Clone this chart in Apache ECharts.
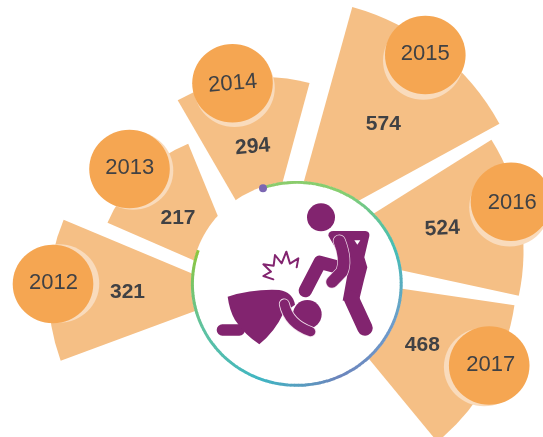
<!DOCTYPE html>
<html>
<head>
<meta charset="utf-8">
<style>html,body{margin:0;padding:0;background:#fff;overflow:hidden}#c{width:543px;height:437px}</style>
<script src="https://cdn.jsdelivr.net/npm/echarts@6/dist/echarts.min.js"></script>
</head>
<body>
<div id="c"></div>
<script>
// ---- data ----
const years = ['2012', '2013', '2014', '2015', '2016', '2017'];
const counts = [321, 217, 294, 574, 524, 468];

// ---- layout, kept apart from the data ----
const apex = [[241, 294], [245.2, 282.8], [264.3, 249.6], [287.8, 239.6], [313.6, 251.3], [298.5, 273.4]];
const arcDeg = [[157.3, 200.3], [112.3, 156.4], [74.8, 120.1], [28.7, 74.5], [-12.2, 32.1], [-50.5, -8.4]];
const radiusFit = [1.073, 1.02, 1.007, 1.007, 0.917, 1.009];
const radiusPerRootCount = 10;
const countPos = [[127.5, 292], [178, 218.5], [252.7, 147], [383.3, 124], [442.3, 228.7], [422.3, 345]];
const countRot = [0, 0, 5, 0, 3, 0];
const bubble = [[53, 284], [129.5, 169], [232.5, 83.2], [425.3, 55], [511, 201.7], [489.2, 365.5]];
const halo = [[6, -0.5], [3.5, 1.5], [2, 4.5], [-2, 5.5], [-1.5, 5.5], [-5, 1.5]];
const yearPos = [[53.5, 282.7], [129.7, 167.7], [232.7, 83.7], [425.3, 54.3], [512.3, 202.7], [490.7, 365.3]];
const yearRot = [0, 0, 5, 0, 0, 0];

const FONT = '"Liberation Sans", Arial, sans-serif';
const TEXT = '#404144', WEDGE = '#F5BF85', BUBBLE = '#F5A652', HALO = '#F9DBBC', PURPLE = '#82246F';
const seriesData = years.map((y, i) => [i, counts[i]]);

function wedgeItem(params, api) {
  const i = api.value(0), count = api.value(1);
  const r = Math.sqrt(count) * radiusPerRootCount * radiusFit[i];
  const rad = Math.PI / 180;
  return {
    type: 'sector',
    shape: { cx: apex[i][0], cy: apex[i][1], r0: 0, r: r,
             startAngle: -arcDeg[i][1] * rad, endAngle: -arcDeg[i][0] * rad, clockwise: true },
    style: { fill: WEDGE }
  };
}
function labelItem(params, api) {
  const i = api.value(0), count = api.value(1);
  return {
    type: 'text', x: countPos[i][0], y: countPos[i][1], rotation: countRot[i] * Math.PI / 180,
    style: { text: String(count), x: 0, y: 0, align: 'center', verticalAlign: 'middle',
             font: 'bold 21px ' + FONT, fill: TEXT }
  };
}
function bubbleItem(params, api) {
  const i = api.value(0);
  const [x, y] = bubble[i];
  return {
    type: 'group',
    children: [
      { type: 'ellipse', shape: { cx: x + halo[i][0], cy: y + halo[i][1], rx: 40.3, ry: 39.3 }, style: { fill: HALO } },
      { type: 'ellipse', shape: { cx: x, cy: y, rx: 40.3, ry: 39.3 }, style: { fill: BUBBLE } },
      { type: 'text', x: yearPos[i][0], y: yearPos[i][1], rotation: yearRot[i] * Math.PI / 180,
        style: { text: years[i], x: 0, y: 0, align: 'center', verticalAlign: 'middle',
                 font: '22px ' + FONT, fill: TEXT } }
    ]
  };
}

// ---- central disc, gradient ring and pictogram ----
const ringStops = ['#8CCB6B', '#86CE6F', '#45BDB5', '#6E9CCB', '#6B84BC', '#3FB5C2', '#5EC2A0', '#8CC63F'];
const ringFrom = 109, ringSweep = 308, ringSteps = 154;
const cx = 296.8, cy = 283.85, ringR = 104.4, squash = 0.972;
const ring = [];
for (let k = 0; k < ringSteps; k++) {
  const a0 = (ringFrom - ringSweep * k / ringSteps) * Math.PI / 180;
  const a1 = (ringFrom - ringSweep * (k + 1.15) / ringSteps) * Math.PI / 180;
  ring.push({ type: 'arc',
    shape: { cx, cy, r: ringR, startAngle: -a0, endAngle: -a1, clockwise: true },
    style: { fill: null, stroke: echarts.color.lerp(k / (ringSteps - 1), ringStops), lineWidth: 3 } });
}
const fill = (d, c) => ({ type: 'path', shape: { pathData: d }, style: { fill: c || PURPLE } });
const line = (d, w, c) => ({ type: 'path', shape: { pathData: d },
  style: { fill: null, stroke: c, lineWidth: w, lineCap: 'round', lineJoin: 'round' } });
const disc = (x, y, r) => ({ type: 'circle', shape: { cx: x, cy: y, r }, style: { fill: PURPLE } });
const figure = [
  // standing person
  disc(423, 142, 42),
  fill('M445 197 Q445 183 460 183 L556 183 Q570 184 568 198 L553 262 L562 292 L552 330 L538 388 L488 392 L503 310 L470 240 Z'),
  line('M514 385 L555 474', 46, PURPLE),
  line('M376 362 L420 277 L490 296', 40, PURPLE),
  line('M478 213 Q500 270 486 305 L456 336', 39, '#F1DEEB'),
  line('M478 213 Q500 270 486 305 L456 336', 35, PURPLE),
  fill('M523 211 L541 211 L532 224 Z', '#FFFFFF'),
  // kneeling person
  line('M127 480 L178 480', 34, PURPLE),
  fill('M143 380 Q220 356 298 360 Q338 366 345 404 L310 430 Q285 485 238 523 Q195 495 165 450 Q148 420 143 380 Z'),
  disc(382, 433, 43),
  line('M313 402 Q326 462 392 485', 33, '#F1DEEB'),
  line('M313 402 Q326 462 392 485', 28, PURPLE),
  // impact burst
  line('M280 328 L250 318 L273 305 L250 283 L281 287 L285 255 L305 280 L319 245 L330 281 L355 265 L350 292', 6, PURPLE)
];
function centreItem() {
  return {
    type: 'group',
    children: [
      { type: 'ellipse', shape: { cx, cy, rx: 105.6, ry: 102.7 }, style: { fill: '#ffffff' } },
      { type: 'group', y: cy * (1 - squash), scaleY: squash, children: ring },
      { type: 'circle', shape: { cx: 263, cy: 188.3, r: 4 }, style: { fill: '#7B66B2' } },
      { type: 'group', x: 180, y: 170, scaleX: 1 / 3, scaleY: 1 / 3, children: figure }
    ]
  };
}

const option = {
  animation: false,
  backgroundColor: '#ffffff',
  series: [
    { type: 'custom', coordinateSystem: 'none', z: 1, data: seriesData, renderItem: wedgeItem, silent: true },
    { type: 'custom', coordinateSystem: 'none', z: 10, data: [[0]], renderItem: centreItem, silent: true },
    { type: 'custom', coordinateSystem: 'none', z: 20, data: seriesData, renderItem: labelItem, silent: true },
    { type: 'custom', coordinateSystem: 'none', z: 30, data: seriesData, renderItem: bubbleItem, silent: true }
  ]
};
echarts.init(document.getElementById('c'), null, { renderer: 'canvas' }).setOption(option);
</script>
</body>
</html>
